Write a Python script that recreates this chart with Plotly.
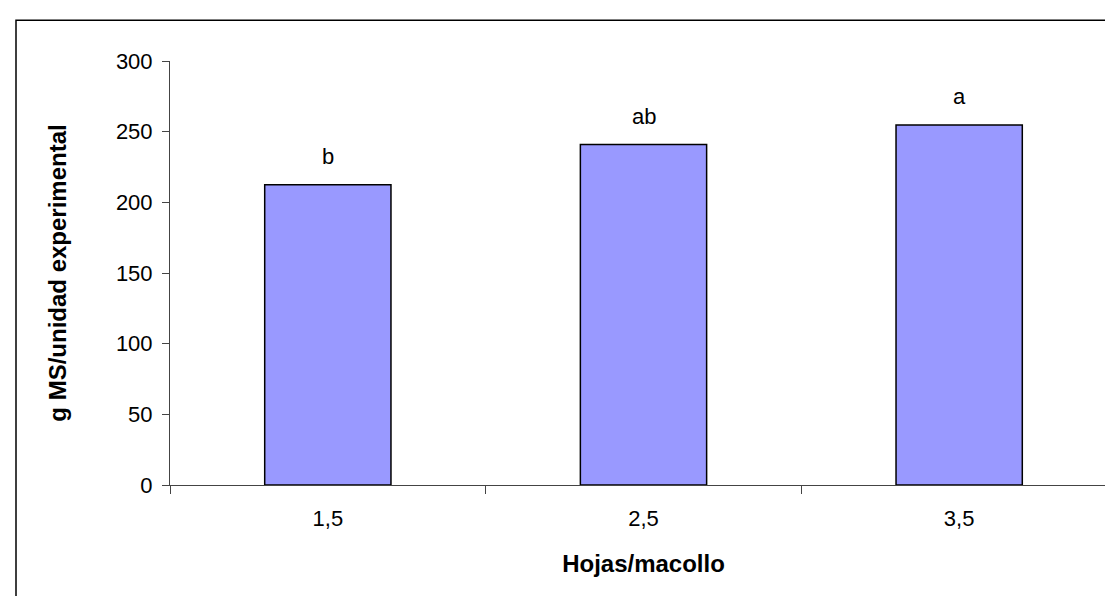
import plotly.graph_objects as go

categories = ["1,5", "2,5", "3,5"]
values = [212.4, 240.9, 254.8]
letters = ["b", "ab", "a"]
y_ticks = [0, 50, 100, 150, 200, 250, 300]

FONT = "Liberation Sans, Arial, sans-serif"

fig = go.Figure()
fig.add_trace(go.Bar(
    x=categories, y=values,
    marker=dict(color="#9999FF", line=dict(color="#000000", width=1.5)),
    width=0.4,
    hoverinfo="skip",
))

for c, v, t in zip(categories, values, letters):
    fig.add_annotation(x=c, y=v, text=t, showarrow=False, yanchor="bottom",
                       yshift=14, font=dict(family=FONT, size=22, color="#000000"))

fig.update_layout(
    width=1113, height=596,
    margin=dict(l=162, r=4, t=53, b=119),
    paper_bgcolor="white", plot_bgcolor="white",
    showlegend=False,
    font=dict(family=FONT, size=22, color="#000000"),
    xaxis=dict(
        type="category",
        showline=True, linecolor="#444444", linewidth=1,
        ticks="outside", tickson="boundaries", ticklen=8, tickcolor="#444444",
        showgrid=False, zeroline=False,
        tickfont=dict(family=FONT, size=22),
        ticklabelstandoff=14,
        title=dict(text="<b>Hojas/macollo</b>", font=dict(family=FONT, size=24), standoff=24),
    ),
    yaxis=dict(
        range=[0, 300], tickvals=y_ticks,
        showline=True, linecolor="#444444", linewidth=1,
        ticks="outside", ticklen=7, tickcolor="#444444",
        showgrid=False, zeroline=False,
        tickfont=dict(family=FONT, size=22),
        ticklabelstandoff=5,
        title=dict(text="<b>g MS/unidad experimental</b>", font=dict(family=FONT, size=24), standoff=42),
    ),
    shapes=[dict(type="rect", xref="paper", yref="paper",
                 x0=(8 - 162) / 947, x1=1.2, y0=-0.6, y1=(477.3 - 12) / 424.6,
                 line=dict(color="#000000", width=1.5), fillcolor="rgba(0,0,0,0)", layer="below")],
)

fig.write_html("out.html")
